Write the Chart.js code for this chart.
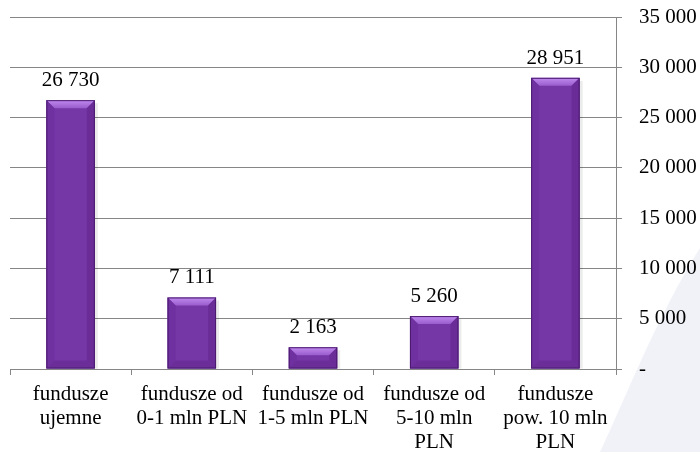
<!DOCTYPE html>
<html>
<head>
<meta charset="utf-8">
<script src="https://cdn.jsdelivr.net/npm/chart.js@4/dist/chart.umd.min.js"></script>
<style>
  html, body { margin: 0; padding: 0; background: #ffffff; }
  #wrap { width: 700px; height: 452px; position: relative; }
</style>
</head>
<body>
<div id="wrap"><canvas id="c" width="700" height="452"></canvas></div>
<script>
const categories = [
  ["fundusze", "ujemne"],
  ["fundusze od", "0-1 mln PLN"],
  ["fundusze od", "1-5 mln PLN"],
  ["fundusze od", "5-10 mln", "PLN"],
  ["fundusze", "pow. 10 mln", "PLN"]
];
const values = [26730, 7111, 2163, 5260, 28951];
const yMin = 0, yMax = 35000, yStep = 5000;

function fmt(v) {
  if (v === 0) return "-";
  return String(Math.round(v)).replace(/\B(?=(\d{3})+(?!\d))/g, " ");
}

const FONT = '"Liberation Serif", "Times New Roman", serif';
const FS = 21;
Chart.defaults.font.family = FONT;

const bgPlugin = {
  id: 'bg',
  beforeDraw(chart) {
    const ctx = chart.ctx;
    ctx.save();
    ctx.fillStyle = '#ffffff';
    ctx.fillRect(0, 0, chart.width, chart.height);
    ctx.fillStyle = '#f1f2f8';
    ctx.beginPath();
    ctx.moveTo(600, 452);
    ctx.bezierCurveTo(625, 400, 655, 320, 700, 248);
    ctx.lineTo(700, 452);
    ctx.closePath();
    ctx.fill();
    ctx.restore();
  }
};

const bevelPlugin = {
  id: 'bevel',
  afterDatasetsDraw(chart) {
    const ctx = chart.ctx;
    const meta = chart.getDatasetMeta(0);
    meta.data.forEach((bar) => {
      const w = bar.width;
      const l = bar.x - w / 2, r = bar.x + w / 2;
      const t = bar.y, b = bar.base;
      const h = b - t;
      const bv = Math.min(8, h / 2);
      ctx.save();
      ctx.fillStyle = 'rgba(0,0,0,0.08)';
      ctx.fillRect(r, t + 3, 3, h - 3);
      ctx.fillStyle = '#7536a6';
      ctx.fillRect(l, t, w, h);
      let g = ctx.createLinearGradient(0, t, 0, t + bv);
      g.addColorStop(0, '#c08af0');
      g.addColorStop(1, '#9a5ccc');
      ctx.fillStyle = g;
      ctx.beginPath();
      ctx.moveTo(l, t); ctx.lineTo(r, t); ctx.lineTo(r - bv, t + bv); ctx.lineTo(l + bv, t + bv); ctx.closePath();
      ctx.fill();
      ctx.fillStyle = '#7031a0';
      ctx.beginPath();
      ctx.moveTo(l, t); ctx.lineTo(l + bv, t + bv); ctx.lineTo(l + bv, b - bv); ctx.lineTo(l, b); ctx.closePath();
      ctx.fill();
      ctx.fillStyle = '#6a2d98';
      ctx.beginPath();
      ctx.moveTo(r, t); ctx.lineTo(r - bv, t + bv); ctx.lineTo(r - bv, b - bv); ctx.lineTo(r, b); ctx.closePath();
      ctx.fill();
      ctx.fillStyle = '#6b2e99';
      ctx.beginPath();
      ctx.moveTo(l, b); ctx.lineTo(l + bv, b - bv); ctx.lineTo(r - bv, b - bv); ctx.lineTo(r, b); ctx.closePath();
      ctx.fill();
      ctx.strokeStyle = '#4a1a6e';
      ctx.lineWidth = 1;
      ctx.strokeRect(l + 0.5, t + 0.5, w - 1, h - 1);
      ctx.restore();
    });
  },
  afterDraw(chart) {
    const ctx = chart.ctx;
    const meta = chart.getDatasetMeta(0);
    ctx.save();
    ctx.font = FS + 'px ' + FONT;
    ctx.fillStyle = '#000000';
    ctx.textAlign = 'center';
    ctx.textBaseline = 'alphabetic';
    meta.data.forEach((bar, i) => {
      ctx.fillText(fmt(values[i]), bar.x, bar.y - 14);
    });
    ctx.restore();
  }
};

function build() {
  new Chart(document.getElementById('c'), {
    type: 'bar',
    data: {
      labels: categories,
      datasets: [{
        data: values,
        backgroundColor: 'rgba(0,0,0,0)',
        borderWidth: 0,
        barPercentage: 1.0,
        categoryPercentage: 0.4
      }]
    },
    options: {
      responsive: false,
      animation: false,
      devicePixelRatio: 1,
      layout: { padding: { left: 10, right: 0, top: 17, bottom: 0 } },
      plugins: { legend: { display: false }, tooltip: { enabled: false } },
      scales: {
        x: {
          position: 'bottom',
          grid: { display: true, drawOnChartArea: false, drawTicks: true, tickLength: 6, color: '#868686', offset: true },
          border: { display: true, color: '#868686', width: 1 },
          ticks: {
            color: '#000000',
            font: { family: FONT, size: FS, lineHeight: 1.15 },
            padding: 7,
            maxRotation: 0,
            autoSkip: false
          },
          afterFit(scale) {
            scale.height = 83;
            scale.paddingLeft = 0; scale.paddingRight = 0;
            scale.paddingTop = 0; scale.paddingBottom = 0;
          }
        },
        y: {
          position: 'right',
          min: yMin, max: yMax,
          grid: { display: true, color: '#868686', lineWidth: 1, tickLength: 6, drawTicks: true },
          border: { display: true, color: '#868686', width: 1 },
          ticks: {
            stepSize: yStep,
            color: '#000000',
            font: { family: FONT, size: FS },
            padding: 17,
            callback: (v) => fmt(v)
          },
          afterFit(scale) {
            scale.width = 84;
            scale.paddingTop = 0; scale.paddingBottom = 0;
            scale.paddingLeft = 0; scale.paddingRight = 0;
          }
        }
      }
    },
    plugins: [bgPlugin, bevelPlugin]
  });
}

if (document.fonts && document.fonts.load) {
  document.fonts.load(FS + 'px "Liberation Serif"').then(build, build);
} else {
  build();
}
</script>
</body>
</html>
